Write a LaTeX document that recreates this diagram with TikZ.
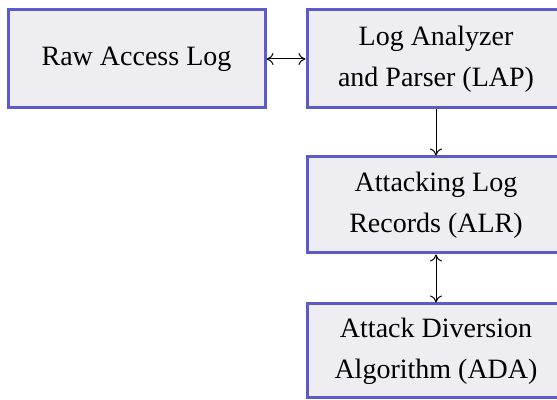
\documentclass[tikz,border=0pt]{standalone}
\usepackage{fontspec}
\setmainfont{Liberation Serif}
\usetikzlibrary{arrows.meta}

\definecolor{boxblue}{RGB}{92,90,205}
\definecolor{boxgray}{RGB}{238,238,242}

\tikzset{
  block/.style={draw=boxblue, fill=boxgray, line width=1.5pt, align=center,
    minimum width=128.5pt, font=\fontsize{14}{20.5}\selectfont},
  link/.style={line width=0.5pt, {To[length=3.5pt,width=6pt]}-{To[length=3.5pt,width=6pt]}},
  onelink/.style={line width=0.5pt, -{To[length=3.5pt,width=6pt]}}
}

\begin{document}
  \begin{tikzpicture}[x=0.5pt, y=-0.5pt]
    \begin{scope}
      \clip (0, 0) rectangle (557, 400);
      \useasboundingbox (0, 0) rectangle (557, 400);

      \node[block, minimum height=49pt] (raw) at (136.5, 59) {Raw Access Log};
      \node[block, minimum width=129pt, minimum height=49pt] (lap) at (436, 59)
      {Log Analyzer \\ and Parser (LAP)};

      \node[block, minimum width=129pt, minimum height=48pt] (alr) at (436, 205)
      {Attacking Log \\ Records (ALR)};
      \node[block, minimum width=129pt, minimum height=47pt] (ada) at (436, 351)
      {Attack Diversion \\ Algorithm (ADA)};

      \draw[link] (raw) -- (lap);
      \draw[onelink] (lap) -- (alr);
      \draw[link] (alr) -- (ada);
    \end{scope}
  \end{tikzpicture}
\end{document}
